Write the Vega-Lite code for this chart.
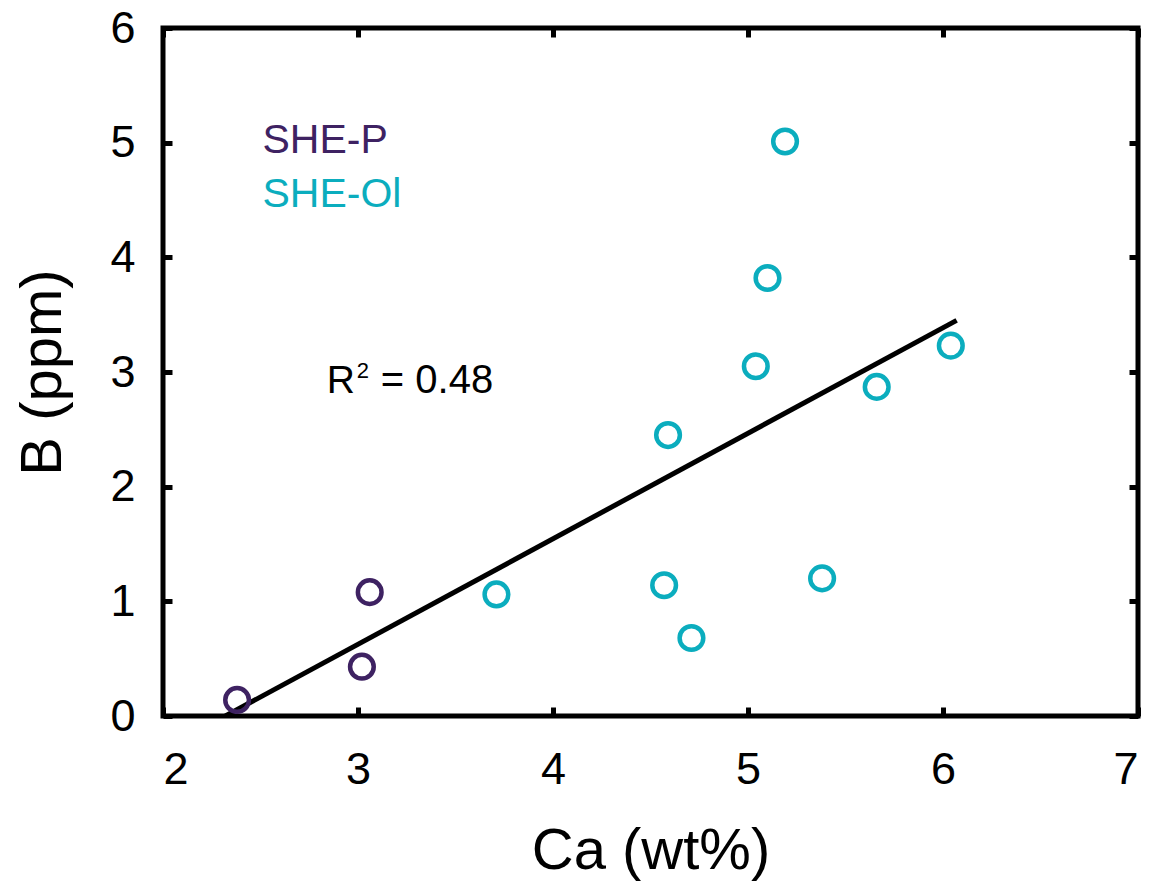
{
  "$schema": "https://vega.github.io/schema/vega-lite/v6.json",
  "width": 975,
  "height": 688,
  "autosize": {"type": "none"},
  "padding": {"left": 163, "top": 28, "right": 22, "bottom": 176},
  "background": "white",
  "config": {
    "font": "Liberation Sans",
    "view": {"stroke": "black", "strokeWidth": 5},
    "axis": {"grid": false, "domain": false, "tickColor": "black", "tickWidth": 5, "tickSize": -9, "labelColor": "black", "titleColor": "black", "labelFont": "Liberation Sans", "titleFont": "Liberation Sans", "titleFontWeight": "normal", "labelFontSize": 45, "titleFontSize": 58}
  },
  "datasets": {
    "pts": [
      {"group": "SHE-P", "ca": 2.38, "b": 0.14},
      {"group": "SHE-P", "ca": 3.02, "b": 0.43},
      {"group": "SHE-P", "ca": 3.06, "b": 1.08},
      {"group": "SHE-Ol", "ca": 3.71, "b": 1.06},
      {"group": "SHE-Ol", "ca": 4.57, "b": 1.14},
      {"group": "SHE-Ol", "ca": 4.59, "b": 2.45},
      {"group": "SHE-Ol", "ca": 4.71, "b": 0.68},
      {"group": "SHE-Ol", "ca": 5.04, "b": 3.05},
      {"group": "SHE-Ol", "ca": 5.10, "b": 3.82},
      {"group": "SHE-Ol", "ca": 5.19, "b": 5.01},
      {"group": "SHE-Ol", "ca": 5.38, "b": 1.20},
      {"group": "SHE-Ol", "ca": 5.66, "b": 2.87},
      {"group": "SHE-Ol", "ca": 6.04, "b": 3.23}
    ],
    "fit": [
      {"ca": 2.32, "b": 0.0},
      {"ca": 6.07, "b": 3.45}
    ],
    "labels": [
      {"group": "SHE-P", "text": "SHE-P", "ca": 2.51, "b": 4.91},
      {"group": "SHE-Ol", "text": "SHE-Ol", "ca": 2.51, "b": 4.44}
    ],
    "r2": [
      {"ca": 2.84, "b": 2.82}
    ]
  },
  "resolve": {"axis": {"x": "independent", "y": "independent"}},
  "layer": [
    {
      "data": {"name": "fit"},
      "mark": {"type": "line", "color": "black", "strokeWidth": 5, "clip": true},
      "encoding": {
        "x": {"field": "ca", "type": "quantitative", "scale": {"domain": [2, 7], "nice": false, "zero": false}, "axis": {"title": "Ca (wt%)", "values": [2, 3, 4, 5, 6, 7], "labelPadding": 40, "titlePadding": 30, "format": "d"}},
        "y": {"field": "b", "type": "quantitative", "scale": {"domain": [0, 6], "nice": false}, "axis": {"title": "B (ppm)", "values": [0, 1, 2, 3, 4, 5, 6], "labelPadding": 37, "titlePadding": 37, "format": "d"}}
      }
    },
    {
      "data": {"name": "pts"},
      "mark": {"type": "point", "shape": "circle", "filled": false, "size": 560, "strokeWidth": 4.5, "opacity": 1},
      "encoding": {
        "x": {"field": "ca", "type": "quantitative", "axis": {"orient": "top", "title": null, "labels": false, "values": [2, 3, 4, 5, 6, 7]}},
        "y": {"field": "b", "type": "quantitative", "axis": {"orient": "right", "title": null, "labels": false, "values": [0, 1, 2, 3, 4, 5, 6]}},
        "color": {"field": "group", "type": "nominal", "scale": {"domain": ["SHE-P", "SHE-Ol"], "range": ["#3e2262", "#0badbe"]}, "legend": null}
      }
    },
    {
      "data": {"name": "labels"},
      "mark": {"type": "text", "align": "left", "baseline": "alphabetic", "fontSize": 41, "font": "Liberation Sans"},
      "encoding": {
        "x": {"field": "ca", "type": "quantitative", "axis": null},
        "y": {"field": "b", "type": "quantitative", "axis": null},
        "text": {"field": "text"},
        "color": {"field": "group", "type": "nominal", "scale": {"domain": ["SHE-P", "SHE-Ol"], "range": ["#3e2262", "#0badbe"]}, "legend": null}
      }
    },
    {
      "data": {"name": "r2"},
      "mark": {"type": "text", "text": "R", "align": "left", "baseline": "alphabetic", "fontSize": 39, "font": "Liberation Sans", "color": "black"},
      "encoding": {
        "x": {"field": "ca", "type": "quantitative", "axis": null},
        "y": {"field": "b", "type": "quantitative", "axis": null}
      }
    },
    {
      "data": {"name": "r2"},
      "mark": {"type": "text", "text": "2", "align": "left", "baseline": "alphabetic", "fontSize": 22, "dx": 30, "dy": -15, "font": "Liberation Sans", "color": "black"},
      "encoding": {
        "x": {"field": "ca", "type": "quantitative", "axis": null},
        "y": {"field": "b", "type": "quantitative", "axis": null}
      }
    },
    {
      "data": {"name": "r2"},
      "mark": {"type": "text", "text": "= 0.48", "align": "left", "baseline": "alphabetic", "fontSize": 40, "dx": 54, "font": "Liberation Sans", "color": "black"},
      "encoding": {
        "x": {"field": "ca", "type": "quantitative", "axis": null},
        "y": {"field": "b", "type": "quantitative", "axis": null}
      }
    }
  ]
}
